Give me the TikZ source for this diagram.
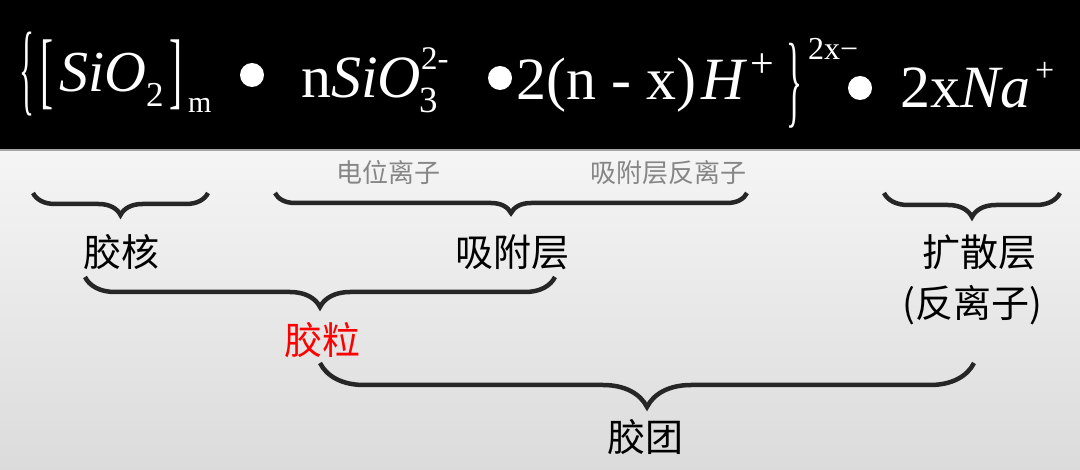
\documentclass[tikz,border=0pt]{standalone}
\usepackage{fontspec}
\usepackage{xcolor}
\usepackage{tikz}
\usetikzlibrary{decorations.pathreplacing}

\newfontfamily\tnr{Liberation Serif}
\newfontfamily\cjk{Noto Sans CJK SC}
\newcommand{\fsz}[1]{\fontsize{#1}{#1}\selectfont}

\begin{document}
\begin{tikzpicture}[x=1pt,y=-1pt,
    formula/.style={text=white,inner sep=0pt,anchor=base west},
    dot/.style={circle,fill=white,inner sep=0pt,minimum size=24pt},
    label/.style={font=\cjk\fsz{38},inner sep=0pt},
    note/.style={font=\cjk\fsz{26},text=gray!95,inner sep=0pt},
    hbrace/.style={decorate,decoration={brace,mirror,amplitude=#1},line width=4.5pt,black!85}]

    % Background
    \useasboundingbox (0,0) rectangle (1080,470);
    \fill[black] (0,0) rectangle (1080,150);
    \shade[top color=gray!8,bottom color=gray!28] (0,150) rectangle (1080,470);
    \draw[gray!70,line width=1.5pt] (0,150) -- (1080,150);

    % The formula
    \node [formula,anchor=north west] at (19,32) (lbrace) {\tnr\resizebox*{15pt}{84pt}{\{}};
    \node [formula,anchor=north west] at (40,40) (lbrack) {\tnr\resizebox*{13pt}{70pt}{[}};
    \node [formula,font=\tnr\fsz{58}\itshape] at (59,92) (sio) {SiO};
    \node [formula,font=\tnr\fsz{35}] at (146,107) (sio2) {2};
    \node [formula,anchor=north west] at (169,40) (rbrack) {\tnr\resizebox*{13pt}{70pt}{]}};
    \node [formula,font=\tnr\fsz{30}] at (188,113) (m) {m};
    \node [dot] at (252,75) (dot1) {};

    \node [formula,font=\tnr\fsz{60}] at (301,98) (nsio) {n\textit{SiO}};
    \node [formula,font=\tnr\fsz{37}] at (419,113) (sio3) {3};
    \node [formula,font=\tnr\fsz{33}] at (421,70) (charge1) {2-};
    \node [dot] at (500,78) (dot2) {};

    \node [formula,font=\tnr\fsz{60}] at (516,100) (nx) {2(n - x)};
    \node [formula,font=\tnr\fsz{60}\itshape] at (701,100) (h) {H};
    \node [formula,font=\tnr\fsz{42}] at (750,78) (hplus) {+};
    \node [formula,anchor=north west] at (786,43) (rbrace) {\tnr\resizebox*{16pt}{85pt}{\}}};
    \node [formula,font=\tnr\fsz{32}] at (808,60) (charge2) {2x−};
    \node [dot] at (860,88) (dot3) {};

    \node [formula,font=\tnr\fsz{60}] at (900,108) (na) {2x\textit{Na}};
    \node [formula,font=\tnr\fsz{34}] at (1035,82) (naplus) {+};

    % Brace ends
    \coordinate (coreL) at (33,193);   \coordinate (coreR) at (208,193);
    \coordinate (adsL) at (275,193);   \coordinate (adsR) at (747,193);
    \coordinate (difL) at (884,193);   \coordinate (difR) at (1060,193);
    \coordinate (partL) at (85,277);   \coordinate (partR) at (555,277);
    \coordinate (micL) at (320,363);   \coordinate (micR) at (974,363);

    % Labels
    \node [note] at (388,173) (pot) {电位离子};
    \node [note] at (668,173) (counter) {吸附层反离子};
    \node [label] at (121,252) (core) {胶核};
    \node [label] at (512,252) (ads) {吸附层};
    \node [label] at (979,252) (dif) {扩散层};
    \node [label] at (972,305) (difnote) {(反离子)};
    \node [label,text=red] at (322,340) (particle) {胶粒};
    \node [label] at (645,437) (micelle) {胶团};

    % Braces
    \draw [hbrace=22] (coreL) -- (coreR);
    \draw [hbrace=20] (adsL) -- (adsR);
    \draw [hbrace=24] (difL) -- (difR);
    \draw [hbrace=30] (partL) -- (partR);
    \draw [hbrace=44] (micL) -- (micR);
\end{tikzpicture}
\end{document}
